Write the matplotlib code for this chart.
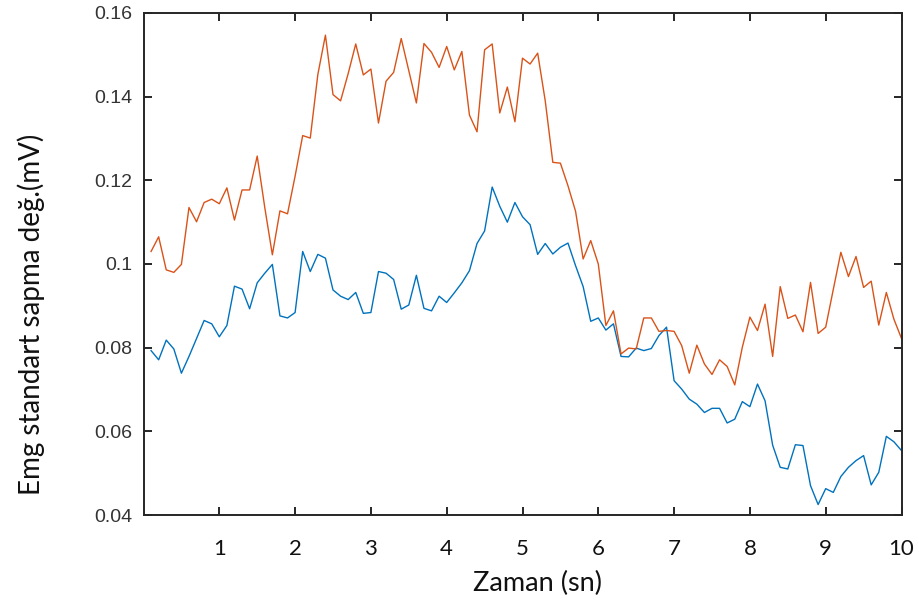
import numpy as np
import matplotlib.pyplot as plt

# time axis (s), one sample every 0.1 s
zaman = np.round(np.arange(1, 101) * 0.1, 1)

# blue series
emg_mavi = [
    0.0793, 0.0771, 0.0818, 0.0797, 0.0739, 0.0779, 0.0822, 0.0865, 0.0857, 0.0826,
    0.0853, 0.0947, 0.0940, 0.0893, 0.0955, 0.0978, 0.0999, 0.0876, 0.0871, 0.0884,
    0.1030, 0.0982, 0.1023, 0.1014, 0.0938, 0.0923, 0.0915, 0.0932, 0.0882, 0.0884,
    0.0982, 0.0978, 0.0963, 0.0892, 0.0902, 0.0973, 0.0894, 0.0888, 0.0923, 0.0908,
    0.0931, 0.0955, 0.0984, 0.1049, 0.1079, 0.1184, 0.1138, 0.1100, 0.1147, 0.1113,
    0.1094, 0.1023, 0.1049, 0.1024, 0.1040, 0.1050, 0.0996, 0.0946, 0.0863, 0.0871,
    0.0842, 0.0857, 0.0779, 0.0778, 0.0799, 0.0793, 0.0798, 0.0829, 0.0849, 0.0721,
    0.0701, 0.0677, 0.0665, 0.0645, 0.0655, 0.0655, 0.0620, 0.0629, 0.0671, 0.0659,
    0.0713, 0.0673, 0.0567, 0.0514, 0.0510, 0.0568, 0.0566, 0.0470, 0.0425, 0.0463,
    0.0454, 0.0492, 0.0514, 0.0530, 0.0542, 0.0472, 0.0502, 0.0588, 0.0575, 0.0554,
]

# orange series
emg_turuncu = [
    0.1030, 0.1065, 0.0986, 0.0980, 0.0999, 0.1135, 0.1101, 0.1147, 0.1155, 0.1144,
    0.1182, 0.1105, 0.1177, 0.1177, 0.1258, 0.1135, 0.1022, 0.1127, 0.1120, 0.1210,
    0.1307, 0.1301, 0.1453, 0.1547, 0.1405, 0.1390, 0.1455, 0.1526, 0.1452, 0.1466,
    0.1337, 0.1437, 0.1458, 0.1539, 0.1462, 0.1385, 0.1527, 0.1506, 0.1470, 0.1520,
    0.1464, 0.1508, 0.1356, 0.1316, 0.1512, 0.1526, 0.1361, 0.1423, 0.1340, 0.1492,
    0.1478, 0.1504, 0.1390, 0.1243, 0.1241, 0.1187, 0.1126, 0.1012, 0.1056, 0.1000,
    0.0853, 0.0888, 0.0785, 0.0799, 0.0797, 0.0871, 0.0871, 0.0839, 0.0841, 0.0839,
    0.0805, 0.0739, 0.0806, 0.0761, 0.0736, 0.0771, 0.0755, 0.0711, 0.0801, 0.0873,
    0.0841, 0.0904, 0.0779, 0.0946, 0.0870, 0.0878, 0.0838, 0.0956, 0.0834, 0.0849,
    0.0939, 0.1028, 0.0970, 0.1018, 0.0944, 0.0959, 0.0854, 0.0932, 0.0868, 0.0822,
]

x_ticks = list(range(1, 11))
y_ticks = [0.04, 0.06, 0.08, 0.10, 0.12, 0.14, 0.16]
y_tick_labels = ["0.04", "0.06", "0.08", "0.1", "0.12", "0.14", "0.16"]

fig = plt.figure(figsize=(9.19, 6.06), dpi=100)
ax = fig.add_axes([143.5 / 919, 1 - 515 / 606, (901.5 - 143.5) / 919, (515 - 13) / 606])

ax.plot(zaman, emg_mavi, color="#0072BD", lw=1.0)
ax.plot(zaman, emg_turuncu, color="#D95319", lw=1.0)

ax.set_xlim(0, 10)
ax.set_ylim(0.04, 0.16)
ax.set_xticks(x_ticks)
ax.set_yticks(y_ticks)
ax.set_yticklabels(y_tick_labels)

dark = "#262626"
for s in ax.spines.values():
    s.set_color(dark)
    s.set_linewidth(1.4)
ax.tick_params(direction="in", length=6, width=1.4, color=dark,
               top=True, right=True)
ax.tick_params(axis="y", labelsize=14, labelcolor="#333333", pad=8)
ax.tick_params(axis="x", labelsize=16, labelcolor="#111111", pad=17)
for lbl in ax.get_yticklabels():
    lbl.set_family("Liberation Sans")
for lbl in ax.get_xticklabels():
    lbl.set_family("Lato")

ax.set_xlabel("Zaman (sn)", family="Lato", fontsize=19.5, color="#111111")
ax.set_ylabel("Emg standart sapma değ.(mV)", family="Lato", fontsize=20, color="#111111")
ax.xaxis.set_label_coords(0.52, -0.112)
ax.yaxis.set_label_coords(-0.13, 0.40)

fig.savefig("out.png", dpi=100)
